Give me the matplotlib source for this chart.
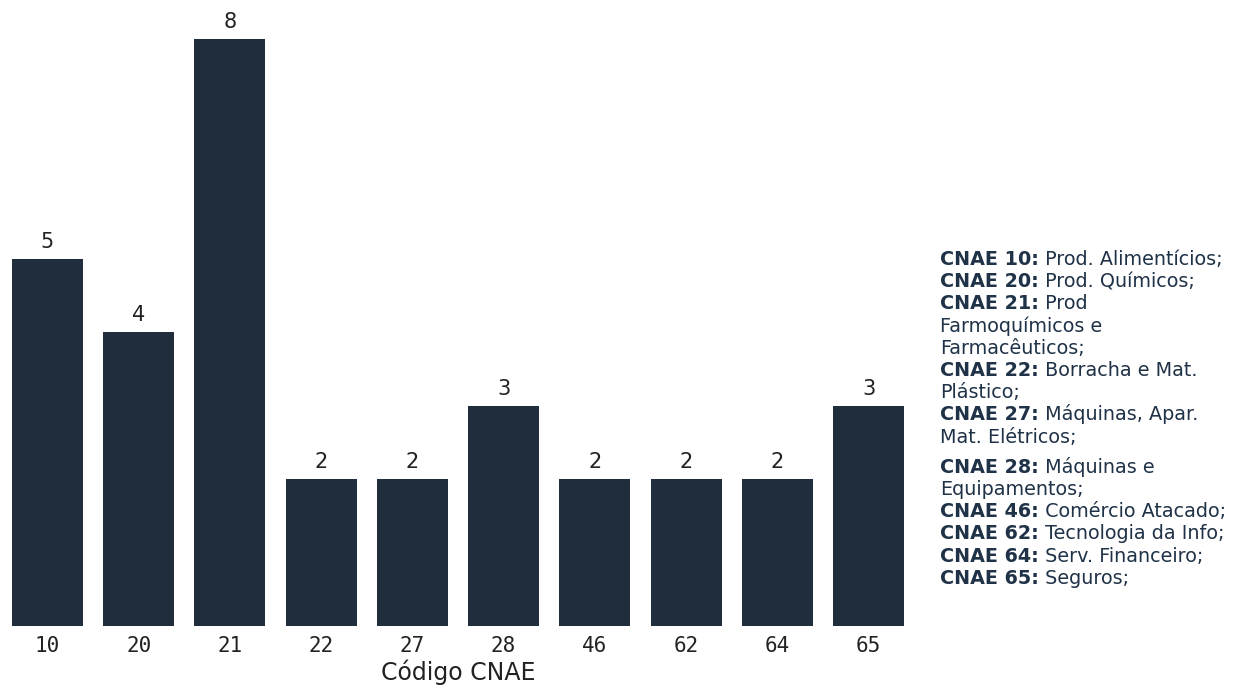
import matplotlib
matplotlib.use('Agg')
import matplotlib.pyplot as plt

# Empresas por código CNAE
codigos = ['10', '20', '21', '22', '27', '28', '46', '62', '64', '65']
quantidade = [5, 4, 8, 2, 2, 3, 2, 2, 2, 3]

# legenda lateral: (parte em negrito, parte normal)
legenda = [
    ('CNAE 10:', ' Prod. Alimentícios;'),
    ('CNAE 20:', ' Prod. Químicos;'),
    ('CNAE 21:', ' Prod'),
    ('', 'Farmoquímicos e'),
    ('', 'Farmacêuticos;'),
    ('CNAE 22:', ' Borracha e Mat.'),
    ('', 'Plástico;'),
    ('CNAE 27:', ' Máquinas, Apar.'),
    ('', 'Mat. Elétricos;'),
    ('CNAE 28:', ' Máquinas e'),
    ('', 'Equipamentos;'),
    ('CNAE 46:', ' Comércio Atacado;'),
    ('CNAE 62:', ' Tecnologia da Info;'),
    ('CNAE 64:', ' Serv. Financeiro;'),
    ('CNAE 65:', ' Seguros;'),
]

cor_barra = '#1f2d3d'
cor_texto = '#1f3247'

fig = plt.figure(figsize=(12.49, 6.88), dpi=100)
ax = fig.add_axes([0.0, 62 / 688, 916 / 1249, 624 / 688])

pos = list(range(len(codigos)))
barras = ax.bar(pos, quantidade, width=0.78, color=cor_barra)
ax.bar_label(barras, labels=[str(v) for v in quantidade], padding=5,
             fontsize=15, color='#222222', family='DejaVu Sans')

ax.set_xlim(-0.52, len(codigos) - 0.48)
ax.set_ylim(0, 8.5)
ax.set_xticks(pos)
ax.set_xticklabels(codigos, family='DejaVu Sans Mono', fontsize=15, color='#222222')
ax.tick_params(axis='x', length=0, pad=7)
ax.set_yticks([])
for s in ax.spines.values():
    s.set_visible(False)
ax.set_xlabel('Código CNAE', fontsize=17, color='#222222', family='DejaVu Sans', labelpad=3)

# legenda em texto à direita
fonte = 'DejaVu Sans'
tam = 13.8
x0 = 940 / 1249
y = 688 - 265
for i, (negrito, normal) in enumerate(legenda):
    if i == 9:
        y -= 8
    yf = y / 688
    if negrito:
        t = fig.text(x0, yf, negrito, fontsize=tam, fontweight='bold',
                     family=fonte, color=cor_texto, va='baseline')
        ax.annotate(normal, xy=(1, 0), xycoords=t, fontsize=tam, family=fonte,
                    color=cor_texto, va='bottom', ha='left', annotation_clip=False)
    else:
        fig.text(x0, yf, normal, fontsize=tam, family=fonte, color=cor_texto, va='baseline')
    y -= 22.2

fig.savefig('out.png', dpi=100)
